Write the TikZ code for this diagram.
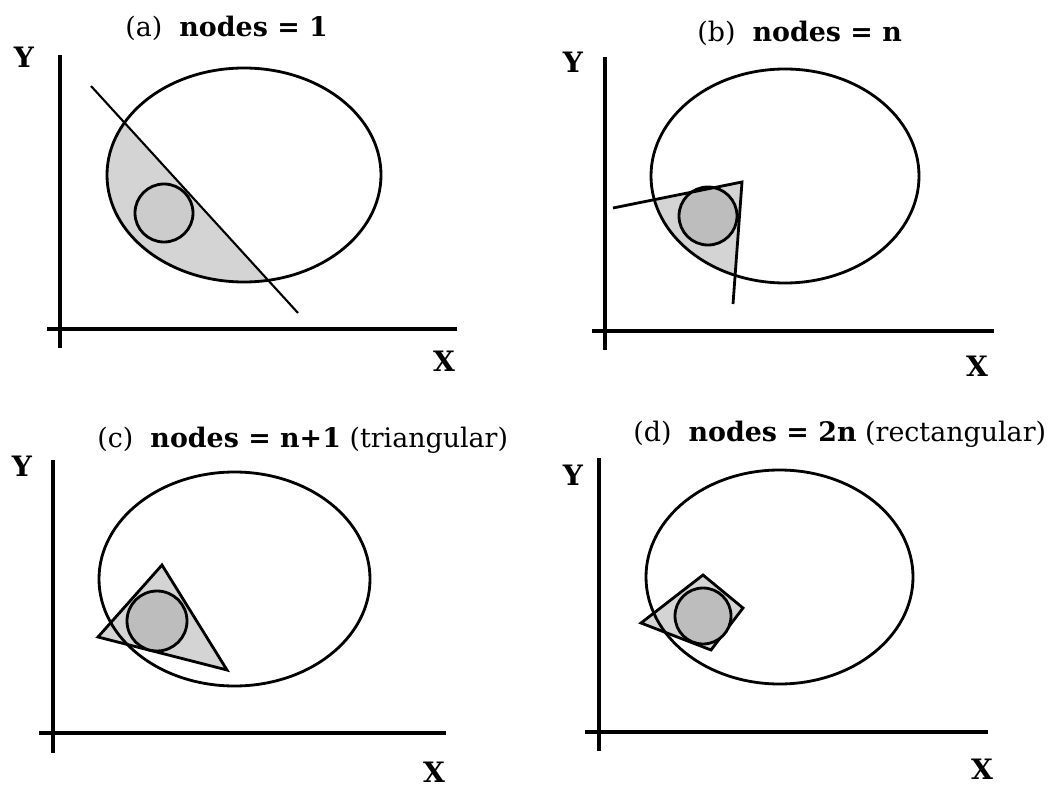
\documentclass[tikz,border=0pt]{standalone}
\usepackage{fontspec}
\setmainfont{DejaVu Serif}
\usetikzlibrary{positioning}

\begin{document}
\begin{tikzpicture}[x=0.02cm,y=-0.02cm,
    axis/.style={line width=2.2pt},
    rim/.style={line width=1.6pt},
    cut/.style={line width=1.2pt},
    region/.style={fill=black!17},
    ball/.style={draw,line width=1.6pt,fill=black!26},
    axlabel/.style={font=\fontsize{16}{18}\selectfont\bfseries,inner sep=0pt},
    caption/.style={font=\fontsize{15.3}{17}\selectfont,anchor=base west,inner sep=0pt}]
  \useasboundingbox (0,0) rectangle (1064,787);

  % (a)
  \node[caption] (ta) at (125,37) {(a)\ \ \textbf{nodes = 1}};
  \node[axlabel] (ya) at (24,57) {Y};
  \node[axlabel] (xa) at (444,361) {X};
  \draw[axis] (60,55) -- (60,348);
  \draw[axis] (47,329) -- (457,329);
  \begin{scope}
    \clip (244,175) ellipse [x radius=137,y radius=107];
    \fill[region] (50,41) -- (340,359) -- (50,359) -- cycle;
  \end{scope}
  \draw[rim] (244,175) ellipse [x radius=137,y radius=107];
  \draw[cut] (91,86) -- (298,313);
  \draw[ball,fill=black!20] (164,213) circle [radius=29];

  % (b)
  \node[caption] (tb) at (697,42) {(b)\ \ \textbf{nodes = n}};
  \node[axlabel] (yb) at (573,62) {Y};
  \node[axlabel] (xb) at (977,366) {X};
  \draw[axis] (605,57) -- (605,350);
  \draw[axis] (592,331) -- (994,331);
  \begin{scope}
    \clip (785,176) ellipse [x radius=134,y radius=107];
    \fill[region] (600,210.6) -- (742,182) -- (733,310) -- (600,310) -- cycle;
  \end{scope}
  \draw[rim] (785,176) ellipse [x radius=134,y radius=107];
  \draw[ball] (708,216) circle [radius=29];
  \draw[rim] (613,208) -- (742,182) -- (733,304);

  % (c)
  \node[caption] (tc) at (97,447) {(c)\ \ \textbf{nodes = n+1} (triangular)};
  \node[axlabel] (yc) at (22,466) {Y};
  \node[axlabel] (xc) at (434,772) {X};
  \draw[axis] (53,460) -- (53,753);
  \draw[axis] (39,733) -- (446,733);
  \fill[region] (162,565) -- (98,637) -- (227,670) -- cycle;
  \draw[rim] (234.5,579) ellipse [x radius=135.5,y radius=107];
  \draw[rim] (162,565) -- (98,637) -- (227,670) -- cycle;
  \draw[ball] (157,621) circle [radius=30];

  % (d)
  \node[caption] (td) at (633,441) {(d)\ \ \textbf{nodes = 2n} (rectangular)};
  \node[axlabel] (yd) at (573,475) {Y};
  \node[axlabel] (xd) at (982,769) {X};
  \draw[axis] (599,458) -- (599,751);
  \draw[axis] (585,732) -- (988,732);
  \fill[region] (703,575) -- (743,608) -- (711,650) -- (641,623) -- cycle;
  \draw[rim] (779.5,577) ellipse [x radius=133.5,y radius=107];
  \draw[rim] (703,575) -- (743,608) -- (711,650) -- (641,623) -- cycle;
  \draw[ball] (703,616) circle [radius=28];
\end{tikzpicture}
\end{document}
